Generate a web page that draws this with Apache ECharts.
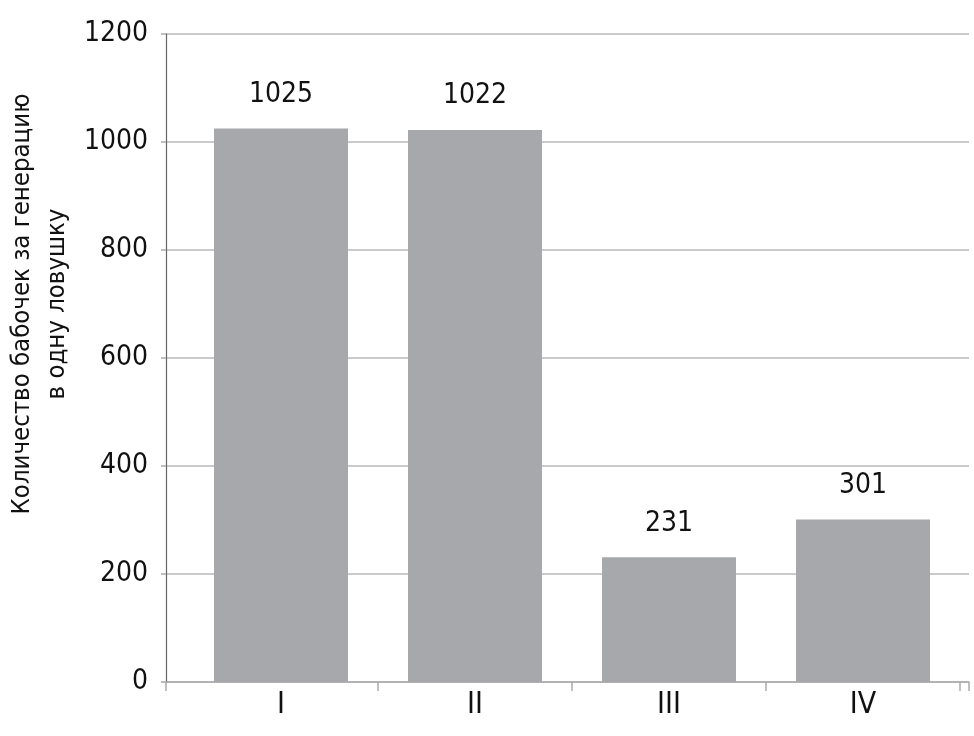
<!DOCTYPE html>
<html>
<head>
<meta charset="utf-8">
<script src="https://cdn.jsdelivr.net/npm/echarts@6/dist/echarts.min.js"></script>
<style>html,body{margin:0;padding:0;background:#fff}#c{width:974px;height:736px}</style>
</head>
<body>
<div id="c"></div>
<script>
const categories = ['I', 'II', 'III', 'IV'];
const values = [1025, 1022, 231, 301];
const yTicks = { min: 0, max: 1200, interval: 200 };
const yTitleLines = ['Количество бабочек за генерацию', 'в одну ловушку'];

const FONT = '"Liberation Sans Narrow", "DejaVu Sans Condensed", "Roboto Condensed", sans-serif';
const chart = echarts.init(document.getElementById('c'), null, { renderer: 'canvas' });
chart.setOption({
  animation: false,
  backgroundColor: '#fff',
  grid: [
    { left: 166, right: 5, top: 34, bottom: 54 },
    { left: 184, right: 14, top: 34, bottom: 54 }
  ],
  xAxis: [
    {
      gridIndex: 0, type: 'category', data: [''],
      axisLine: { show: true, lineStyle: { color: '#aaaaaa', width: 1.5 } },
      axisTick: { show: true, length: 9, lineStyle: { color: '#aaaaaa', width: 1.5 } },
      axisLabel: { show: false }, splitLine: { show: false }
    },
    {
      gridIndex: 1, type: 'category', data: categories,
      axisLine: { show: false },
      axisTick: { show: true, length: 9, interval: function (i) { return i > 0 && i < categories.length; }, lineStyle: { color: '#aaaaaa', width: 1.5 } },
      axisLabel: { color: '#111', fontFamily: FONT, fontSize: 30, margin: 8 },
      splitLine: { show: false }
    }
  ],
  yAxis: [
    {
      gridIndex: 0, type: 'value', min: yTicks.min, max: yTicks.max, interval: yTicks.interval,
      axisLine: { show: true, lineStyle: { color: '#666666', width: 1.2 } },
      axisTick: { show: true, length: 5, lineStyle: { color: '#aaaaaa', width: 1.5 } },
      axisLabel: { color: '#111', fontFamily: FONT, fontSize: 28, margin: 18, formatter: function (v) { return String(v); } },
      splitLine: { show: true, lineStyle: { color: '#b8b8b8', width: 1.5 } }
    },
    {
      gridIndex: 1, type: 'value', min: yTicks.min, max: yTicks.max, interval: yTicks.interval, show: false,
      splitLine: { show: false }
    }
  ],
  graphic: [{
    type: 'text',
    x: 40, y: 304, rotation: Math.PI / 2,
    style: {
      text: yTitleLines.join('\n'),
      fontFamily: FONT, fontSize: 25.5, lineHeight: 35,
      fill: '#111', align: 'center', verticalAlign: 'middle'
    }
  }],
  series: [{
    type: 'bar', xAxisIndex: 1, yAxisIndex: 1,
    data: values, barWidth: 134,
    itemStyle: { color: '#a7a8ab' },
    label: { show: true, position: 'top', distance: 20, color: '#111', fontFamily: FONT, fontSize: 28 }
  }]
});
</script>
</body>
</html>
